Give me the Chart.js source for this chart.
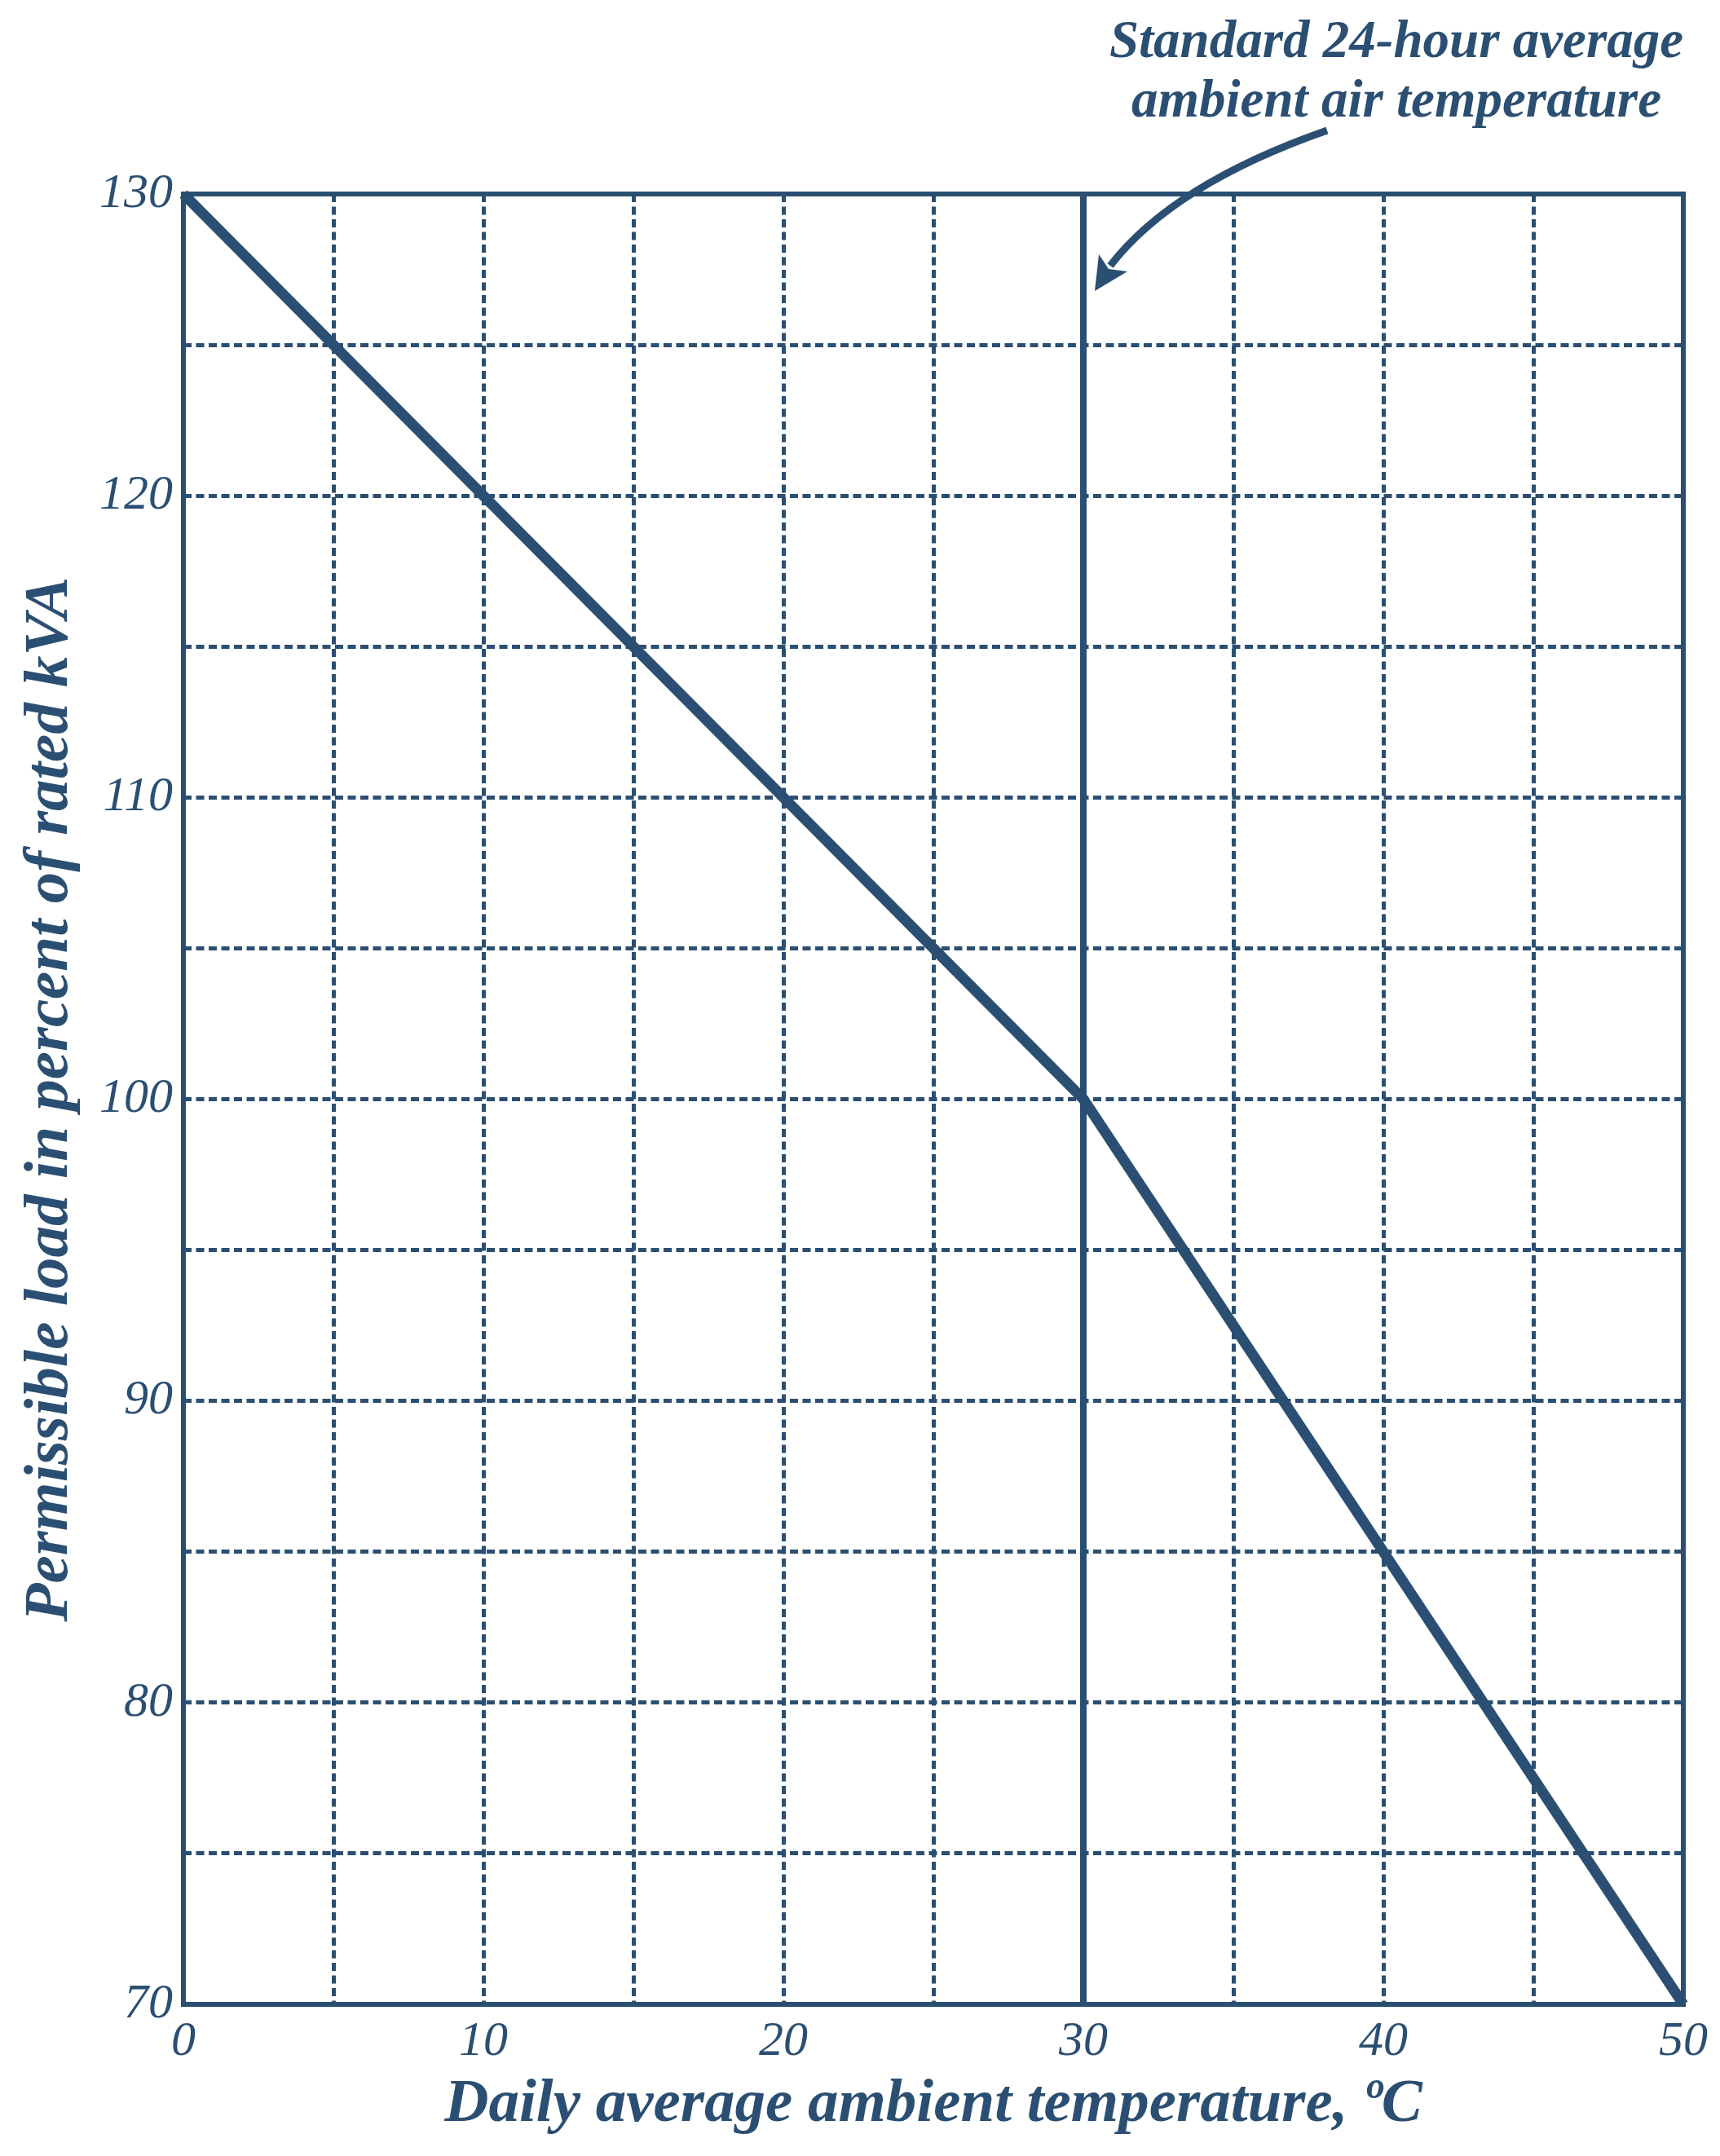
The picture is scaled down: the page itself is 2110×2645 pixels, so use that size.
<!DOCTYPE html>
<html>
<head>
<meta charset="utf-8">
<script src="https://cdn.jsdelivr.net/npm/chart.js@4/dist/chart.umd.min.js"></script>
<style>
  html, body { margin: 0; padding: 0; background: #fff; }
  canvas { display: block; }
</style>
</head>
<body>
<canvas id="chart" width="2110" height="2645"></canvas>
<script>
// values
const tempC = [0, 30, 50];          // daily average ambient temperature, ºC
const loadPct = [130, 100, 70];     // permissible load, % of rated kVA
const standardTemp = 30;            // standard 24-hour average
const xTicks = [0, 10, 20, 30, 40, 50];
const yTicks = [70, 80, 90, 100, 110, 120, 130];
const gridStep = 5;

const ink = '#2b4f72';
const serif = "'Liberation Serif', 'Times New Roman', serif";

const loadPoints = tempC.map((t, i) => ({ x: t, y: loadPct[i] }));
const standardPoints = [
  { x: standardTemp, y: yTicks[0] },
  { x: standardTemp, y: yTicks[yTicks.length - 1] },
];

// edge grid lines sit under the frame, so skip them
const gridColor = (min, max) => ctx =>
  (ctx.tick && (ctx.tick.value === min || ctx.tick.value === max)) ? 'rgba(0,0,0,0)' : ink;

const framePlugin = {
  id: 'frame',
  afterDatasetsDraw(chart) {
    const { ctx, chartArea: a } = chart;
    ctx.save();
    ctx.strokeStyle = ink;
    ctx.lineWidth = 6;
    ctx.lineJoin = 'miter';
    ctx.strokeRect(a.left, a.top, a.right - a.left, a.bottom - a.top);
    ctx.restore();
  }
};

const notePlugin = {
  id: 'note',
  afterDraw(chart) {
    const { ctx } = chart;
    const x = chart.scales.x, y = chart.scales.y;
    const px = x.getPixelForValue(standardTemp);
    const py = y.getPixelForValue(130);
    ctx.save();
    ctx.fillStyle = ink;
    ctx.strokeStyle = ink;
    ctx.font = 'italic bold 65px ' + serif;
    ctx.textAlign = 'center';
    ctx.textBaseline = 'alphabetic';
    ctx.fillText('Standard 24-hour average', 1713, 70);
    ctx.fillText('ambient air temperature', 1713, 143);

    // curved arrow pointing at the standard line
    ctx.lineWidth = 9;
    ctx.lineCap = 'butt';
    ctx.beginPath();
    ctx.moveTo(px + 299, py - 78);
    ctx.quadraticCurveTo(px + 110, py - 12, px + 33, py + 88);
    ctx.stroke();
    ctx.beginPath();
    ctx.moveTo(px + 14, py + 119);
    ctx.lineTo(px + 19, py + 74);
    ctx.lineTo(px + 31, py + 92);
    ctx.lineTo(px + 54, py + 95);
    ctx.closePath();
    ctx.fill();
    ctx.restore();
  }
};

new Chart(document.getElementById('chart'), {
  type: 'line',
  data: {
    datasets: [
      {
        label: 'Permissible load',
        data: loadPoints,
        borderColor: ink,
        borderWidth: 13,
        pointRadius: 0,
        tension: 0,
        clip: false,
      },
      {
        label: 'Standard temperature',
        data: standardPoints,
        borderColor: ink,
        borderWidth: 8,
        pointRadius: 0,
        clip: false,
      }
    ]
  },
  options: {
    responsive: false,
    animation: false,
    devicePixelRatio: 1,
    layout: { padding: { top: 238, right: 45, left: 0, bottom: 0 } },
    plugins: {
      legend: { display: false },
      tooltip: { enabled: false },
    },
    scales: {
      x: {
        type: 'linear',
        min: xTicks[0],
        max: xTicks[xTicks.length - 1],
        afterFit: s => { s.height = 186; },
        ticks: {
          stepSize: gridStep,
          autoSkip: false,
          maxRotation: 0,
          padding: 10,
          color: ink,
          font: { family: serif, style: 'italic', size: 60 },
          callback: v => xTicks.includes(v) ? String(v) : '',
        },
        grid: { color: gridColor(0, 50), lineWidth: 5, drawTicks: false },
        border: { display: false, dash: [10, 5.5] },
        title: {
          display: true,
          text: 'Daily average ambient temperature, ºC',
          color: ink,
          font: { family: serif, style: 'italic', weight: 'bold', size: 75 },
          padding: { top: 0, bottom: 17 },
        },
      },
      y: {
        type: 'linear',
        min: yTicks[0],
        max: yTicks[yTicks.length - 1],
        afterFit: s => { s.width = 225; },
        ticks: {
          stepSize: gridStep,
          autoSkip: false,
          padding: 13,
          color: ink,
          font: { family: serif, style: 'italic', size: 60 },
          callback: v => yTicks.includes(v) ? String(v) : '',
        },
        grid: { color: gridColor(70, 130), lineWidth: 5, drawTicks: false },
        border: { display: false, dash: [10, 5.5] },
        title: {
          display: true,
          text: 'Permissible load in percent of rated kVA',
          color: ink,
          font: { family: serif, style: 'italic', weight: 'bold', size: 77 },
          padding: { top: 16, bottom: 0 },
        },
      }
    }
  },
  plugins: [framePlugin, notePlugin]
});
</script>
</body>
</html>
